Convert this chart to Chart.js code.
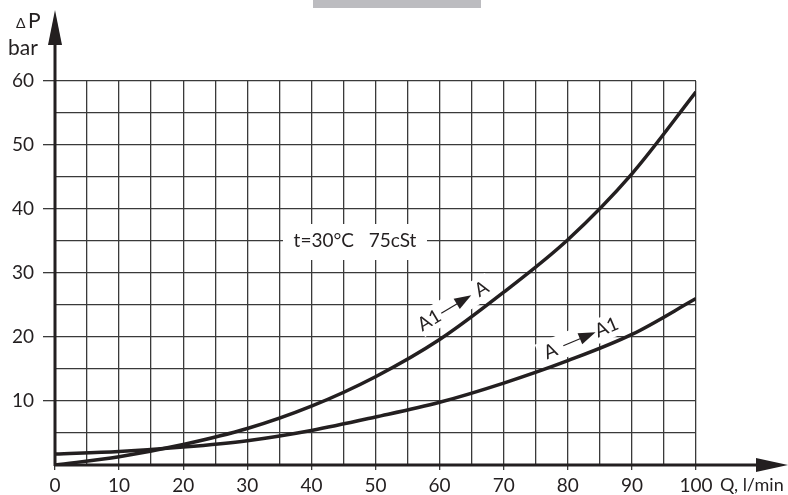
<!DOCTYPE html>
<html>
<head>
<meta charset="utf-8">
<script src="https://cdn.jsdelivr.net/npm/chart.js@4.4.1/dist/chart.umd.min.js"></script>
<style>
  html, body { margin: 0; padding: 0; background: #fff; }
  #wrap { width: 788px; height: 495px; }
</style>
</head>
<body>
<div id="wrap"><canvas id="myChart"></canvas></div>
<script>
// flow in l/min
const flow = [0, 10, 20, 30, 40, 50, 60, 70, 80, 90, 100]
// pressure drop in bar
const a1ToA = [0, 1.3, 3.2, 5.7, 9.2, 13.8, 19.6, 27.0, 35.2, 45.5, 58.3]
const aToA1 = [1.7, 2.1, 2.8, 3.8, 5.4, 7.5, 9.8, 12.8, 16.3, 20.4, 26.0]

const xTicks = [0, 10, 20, 30, 40, 50, 60, 70, 80, 90, 100]
const yTicks = [10, 20, 30, 40, 50, 60]

const ink = '#231f20'
const fontName = 'Lato, "DejaVu Sans", sans-serif'

function toPoints(ys) {
  return flow.map((q, i) => ({ x: q, y: ys[i] }))
}

function arrowHead(ctx, x, y, len, half) {
  // tip at x,y, pointing along +x
  ctx.beginPath()
  ctx.moveTo(x, y)
  ctx.lineTo(x - len, y - half)
  ctx.lineTo(x - len, y + half)
  ctx.closePath()
  ctx.fill()
}

function flowLabel(ctx, cx, cy, ang, from, to) {
  ctx.save()
  ctx.translate(cx, cy)
  ctx.rotate(ang)
  ctx.fillStyle = ink
  ctx.strokeStyle = ink
  ctx.font = '19px ' + fontName
  ctx.textAlign = 'center'
  ctx.textBaseline = 'middle'
  ctx.fillText(from, -30, 0)
  ctx.fillText(to, 31, 0)
  ctx.lineWidth = 1.2
  ctx.beginPath()
  ctx.moveTo(-16, 0)
  ctx.lineTo(6, 0)
  ctx.stroke()
  arrowHead(ctx, 19, 0, 17, 6)
  ctx.restore()
}

const decor = {
  id: 'decor',
  beforeDatasetsDraw(chart) {
    const ctx = chart.ctx
    const xs = chart.scales.x, ys = chart.scales.y
    ctx.save()
    ctx.fillStyle = '#fff'
    // box behind the condition text
    const tx = xs.getPixelForValue(46.8), ty = ys.getPixelForValue(35)
    ctx.fillRect(tx - 72, ty - 17, 144, 36)
    // boxes behind the flow labels
    const boxes = [[62.4, 25, -0.54], [81.6, 19.6, -0.40]]
    boxes.forEach(b => {
      ctx.save()
      ctx.translate(xs.getPixelForValue(b[0]), ys.getPixelForValue(b[1]))
      ctx.rotate(b[2])
      ctx.fillRect(-42, -12, 84, 24)
      ctx.restore()
    })
    ctx.restore()
  },
  afterDatasetsDraw(chart) {
    const ctx = chart.ctx
    const xs = chart.scales.x, ys = chart.scales.y
    const x0 = xs.getPixelForValue(0), y0 = ys.getPixelForValue(0)
    ctx.save()
    ctx.fillStyle = ink
    ctx.strokeStyle = ink
    ctx.lineWidth = 3
    // axes with arrows
    ctx.beginPath()
    ctx.moveTo(x0, y0 + 1)
    ctx.lineTo(x0, 40)
    ctx.moveTo(x0 - 1, y0)
    ctx.lineTo(760, y0)
    ctx.stroke()
    ctx.beginPath()
    ctx.moveTo(x0, 10)
    ctx.lineTo(x0 - 7, 45)
    ctx.lineTo(x0 + 7, 45)
    ctx.closePath()
    ctx.fill()
    arrowHead(ctx, 788, y0, 32, 7)

    // top grey strip
    ctx.fillStyle = '#bcbcc0'
    ctx.fillRect(313, 0, 168, 8)
    ctx.fillStyle = ink

    ctx.textBaseline = 'alphabetic'
    ctx.textAlign = 'left'
    ctx.font = '14px ' + fontName
    ctx.fillText('\u0394', 16, 28)
    ctx.font = '21px ' + fontName
    ctx.fillText('P', 28, 28)
    ctx.fillText('bar', 8, 55)
    ctx.font = '18px ' + fontName
    ctx.textBaseline = 'middle'
    ctx.fillText('Q, l/min', 720, 485)

    ctx.font = '19px ' + fontName
    ctx.textAlign = 'center'
    ctx.fillText('t=30\u00b0C   75cSt', xs.getPixelForValue(46.8), ys.getPixelForValue(35))

    flowLabel(ctx, xs.getPixelForValue(62.4), ys.getPixelForValue(25), -0.54, 'A1', 'A')
    flowLabel(ctx, xs.getPixelForValue(81.6), ys.getPixelForValue(19.6), -0.40, 'A', 'A1')
    ctx.restore()
  }
}

const ctx = document.getElementById('myChart')
new Chart(ctx, {
  type: 'scatter',
  data: {
    datasets: [{
      label: 'A1 -> A',
      data: toPoints(a1ToA),
      showLine: true,
      cubicInterpolationMode: 'monotone',
      borderColor: ink,
      borderWidth: 3.5,
      pointRadius: 0
    }, {
      label: 'A -> A1',
      data: toPoints(aToA1),
      showLine: true,
      cubicInterpolationMode: 'monotone',
      borderColor: ink,
      borderWidth: 3.5,
      pointRadius: 0
    }]
  },
  options: {
    responsive: true,
    maintainAspectRatio: false,
    animation: false,
    layout: { padding: { top: 81, right: 92, left: 0, bottom: 0 } },
    plugins: { legend: { display: false }, tooltip: { enabled: false } },
    scales: {
      x: {
        type: 'linear',
        min: 0,
        max: 100,
        afterFit: s => { s.height = 30 },
        afterBuildTicks: s => { s.ticks = []; for (let v = 0; v <= 100; v += 5) s.ticks.push({ value: v }) },
        border: { display: false },
        grid: {
          color: '#3a3a3a',
          lineWidth: 1.3,
          tickLength: 5,
          tickColor: c => (c.tick && c.tick.value % 10 === 0) ? '#3a3a3a' : 'rgba(0,0,0,0)'
        },
        ticks: {
          padding: 4,
          color: ink,
          font: { family: fontName, size: 19 },
          maxRotation: 0,
          autoSkip: false,
          callback: v => xTicks.includes(v) ? String(v) : ''
        }
      },
      y: {
        type: 'linear',
        min: 0,
        max: 60,
        afterFit: s => { s.width = 55 },
        afterBuildTicks: s => { s.ticks = []; for (let v = 0; v <= 60; v += 5) s.ticks.push({ value: v }) },
        border: { display: false },
        grid: {
          color: '#3a3a3a',
          lineWidth: 1.3,
          tickLength: 12,
          tickColor: c => (c.tick && yTicks.includes(c.tick.value)) ? '#3a3a3a' : 'rgba(0,0,0,0)'
        },
        ticks: {
          padding: 9,
          color: ink,
          font: { family: fontName, size: 19 },
          autoSkip: false,
          callback: v => yTicks.includes(v) ? String(v) : ''
        }
      }
    }
  },
  plugins: [decor]
})
</script>
</body>
</html>
